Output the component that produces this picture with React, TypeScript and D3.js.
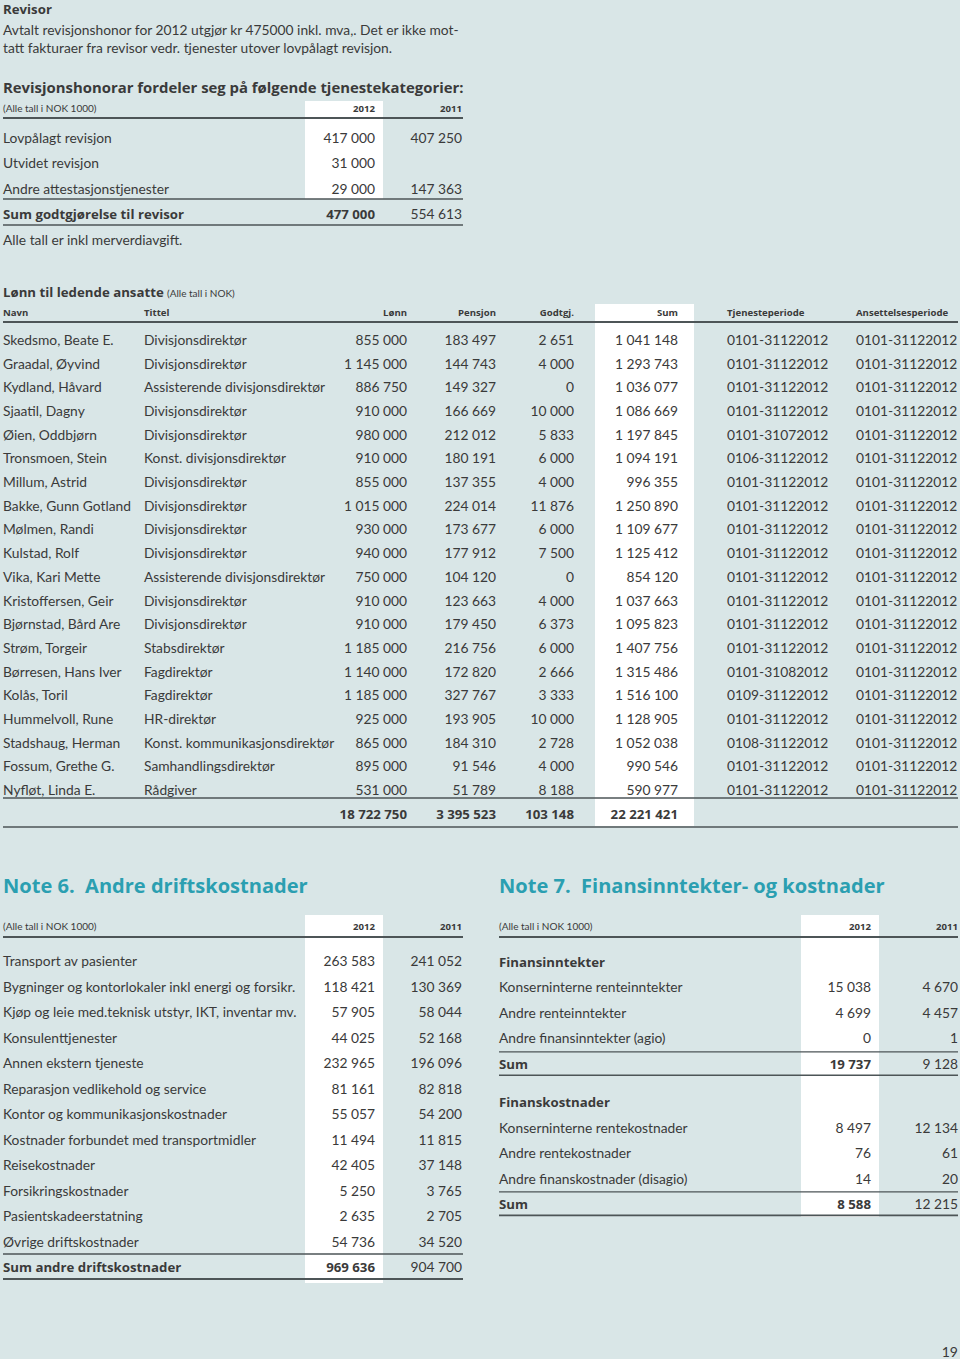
import React from "react";
import * as d3 from "d3";

// ---- data ----
const introLines = [
  "Avtalt revisjonshonor for 2012 utgjør kr 475000 inkl. mva,. Det er ikke mot-",
  "tatt fakturaer fra revisor vedr. tjenester utover lovpålagt revisjon.",
];
const revisorLabels = ["Lovpålagt revisjon", "Utvidet revisjon", "Andre attestasjonstjenester"];
const revisor2012 = [417000, 31000, 29000];
const revisor2011: (number | null)[] = [407250, null, 147363];
const revisorSum = [477000, 554613];

const salaryHeaders = ["Navn", "Tittel", "Lønn", "Pensjon", "Godtgj.", "Sum", "Tjenesteperiode", "Ansettelsesperiode"];
const salaryNames = [
  "Skedsmo, Beate E.", "Graadal, Øyvind", "Kydland, Håvard", "Sjaatil, Dagny", "Øien, Oddbjørn",
  "Tronsmoen, Stein", "Millum, Astrid", "Bakke, Gunn Gotland", "Mølmen, Randi", "Kulstad, Rolf",
  "Vika, Kari Mette", "Kristoffersen, Geir", "Bjørnstad, Bård Are", "Strøm, Torgeir", "Børresen, Hans Iver",
  "Kolås, Toril", "Hummelvoll, Rune", "Stadshaug, Herman", "Fossum, Grethe G.", "Nyfløt, Linda E.",
];
const salaryTitles = [
  "Divisjonsdirektør", "Divisjonsdirektør", "Assisterende divisjonsdirektør", "Divisjonsdirektør", "Divisjonsdirektør",
  "Konst. divisjonsdirektør", "Divisjonsdirektør", "Divisjonsdirektør", "Divisjonsdirektør", "Divisjonsdirektør",
  "Assisterende divisjonsdirektør", "Divisjonsdirektør", "Divisjonsdirektør", "Stabsdirektør", "Fagdirektør",
  "Fagdirektør", "HR-direktør", "Konst. kommunikasjonsdirektør", "Samhandlingsdirektør", "Rådgiver",
];
const salaryLonn = [855000, 1145000, 886750, 910000, 980000, 910000, 855000, 1015000, 930000, 940000, 750000, 910000, 910000, 1185000, 1140000, 1185000, 925000, 865000, 895000, 531000];
const salaryPensjon = [183497, 144743, 149327, 166669, 212012, 180191, 137355, 224014, 173677, 177912, 104120, 123663, 179450, 216756, 172820, 327767, 193905, 184310, 91546, 51789];
const salaryGodtgj = [2651, 4000, 0, 10000, 5833, 6000, 4000, 11876, 6000, 7500, 0, 4000, 6373, 6000, 2666, 3333, 10000, 2728, 4000, 8188];
const salarySum = [1041148, 1293743, 1036077, 1086669, 1197845, 1094191, 996355, 1250890, 1109677, 1125412, 854120, 1037663, 1095823, 1407756, 1315486, 1516100, 1128905, 1052038, 990546, 590977];
const salaryService = [
  "0101-31122012", "0101-31122012", "0101-31122012", "0101-31122012", "0101-31072012",
  "0106-31122012", "0101-31122012", "0101-31122012", "0101-31122012", "0101-31122012",
  "0101-31122012", "0101-31122012", "0101-31122012", "0101-31122012", "0101-31082012",
  "0109-31122012", "0101-31122012", "0108-31122012", "0101-31122012", "0101-31122012",
];
const salaryEmployment = salaryNames.map(() => "0101-31122012");
const salaryTotals = [18722750, 3395523, 103148, 22221421];

const note6Labels = [
  "Transport av pasienter", "Bygninger og kontorlokaler inkl energi og forsikr.",
  "Kjøp og leie med.teknisk utstyr, IKT, inventar mv.", "Konsulenttjenester", "Annen ekstern tjeneste",
  "Reparasjon vedlikehold og service", "Kontor og kommunikasjonskostnader", "Kostnader forbundet med transportmidler",
  "Reisekostnader", "Forsikringskostnader", "Pasientskadeerstatning", "Øvrige driftskostnader",
];
const note6_2012 = [263583, 118421, 57905, 44025, 232965, 81161, 55057, 11494, 42405, 5250, 2635, 54736];
const note6_2011 = [241052, 130369, 58044, 52168, 196096, 82818, 54200, 11815, 37148, 3765, 2705, 34520];
const note6Sum = [969636, 904700];

const note7IncomeLabels = ["Konserninterne renteinntekter", "Andre renteinntekter", "Andre finansinntekter (agio)"];
const note7Income2012 = [15038, 4699, 0];
const note7Income2011 = [4670, 4457, 1];
const note7IncomeSum = [19737, 9128];
const note7CostLabels = ["Konserninterne rentekostnader", "Andre rentekostnader", "Andre finanskostnader (disagio)"];
const note7Cost2012 = [8497, 76, 14];
const note7Cost2011 = [12134, 61, 20];
const note7CostSum = [8588, 12215];

// ---- style ----
const W = 960;
const H = 1359;
const BG = "#d9e6e7";
const INK = "#3a3a3a";
const RULE = "#4d5557";
const TEAL = "#2b9fb1";
const FONT = "Lato, 'Open Sans', sans-serif";
const FONT_BOLD = "'Open Sans', Lato, sans-serif";
const BODY = 13.8;
const SMALL = 10;
const TITLE = 20.9;

const fmt = d3.formatLocale({ decimal: ",", thousands: " ", grouping: [3], currency: ["", ""] }).format(",d");
const num = (v: number | null) => (v == null ? "" : fmt(v));

function Rule({ x1, x2, y, w = 1.3 }: { x1: number; x2: number; y: number; w?: number }) {
  return <line x1={x1} x2={x2} y1={y} y2={y} stroke={RULE} strokeWidth={w} />;
}

function T(props: any) {
  const { children, bold, size = BODY, anchor = "start", fill = INK, ...rest } = props;
  return (
    <text
      fontFamily={bold ? FONT_BOLD : FONT}
      fontSize={bold ? size * 0.96 : size}
      fontWeight={bold ? 700 : 400}
      textAnchor={anchor}
      fill={fill}
      style={{ whiteSpace: "pre" }}
      {...rest}
    >
      {children}
    </text>
  );
}

function RevisorSection() {
  const y = d3.scaleLinear().domain([0, 3]).range([143, 219]);
  const c12 = 375;
  const c11 = 462;
  return (
    <g>
      <T x={3} y={14} bold>Revisor</T>
      {introLines.map((l, i) => (
        <T key={i} x={3} y={35 + i * 18}>{l}</T>
      ))}
      <T x={3} y={93} bold size={15.5}>Revisjonshonorar fordeler seg på følgende tjenestekategorier:</T>
      <rect x={305} y={101} width={78} height={98} fill="#fff" />
      <T x={3} y={112} size={SMALL}>(Alle tall i NOK 1000)</T>
      <T x={c12} y={112} size={SMALL} bold anchor="end">2012</T>
      <T x={c11} y={112} size={SMALL} bold anchor="end">2011</T>
      <Rule x1={3} x2={463} y={118} w={2} />
      {revisorLabels.map((l, i) => (
        <g key={l}>
          <T x={3} y={y(i)}>{l}</T>
          <T x={c12} y={y(i)} anchor="end">{num(revisor2012[i])}</T>
          <T x={c11} y={y(i)} anchor="end">{num(revisor2011[i])}</T>
        </g>
      ))}
      <Rule x1={3} x2={463} y={199} />
      <T x={3} y={y(3)} bold>Sum godtgjørelse til revisor</T>
      <T x={c12} y={y(3)} bold anchor="end">{num(revisorSum[0])}</T>
      <T x={c11} y={y(3)} anchor="end">{num(revisorSum[1])}</T>
      <Rule x1={3} x2={463} y={225} w={1.6} />
      <T x={3} y={245}>Alle tall er inkl merverdiavgift.</T>
    </g>
  );
}

function SalarySection() {
  const n = salaryNames.length;
  const y = d3.scaleLinear().domain([0, n - 1]).range([345, 795]);
  const cols = [
    { x: 3, a: "start" },
    { x: 144, a: "start" },
    { x: 407, a: "end" },
    { x: 496, a: "end" },
    { x: 574, a: "end" },
    { x: 678, a: "end" },
    { x: 727, a: "start" },
    { x: 856, a: "start" },
  ];
  const totalY = 819;
  return (
    <g>
      <T x={3} y={297} bold>Lønn til ledende ansatte</T>
      <T x={167} y={297} size={SMALL}>(Alle tall i NOK)</T>
      <rect x={595} y={304} width={99} height={522} fill="#fff" />
      {salaryHeaders.map((h, i) => (
        <T key={h} x={cols[i].x} y={316} size={SMALL} bold anchor={cols[i].a}>{h}</T>
      ))}
      <Rule x1={3} x2={958} y={322} w={2} />
      {salaryNames.map((name, i) => {
        const cells = [
          name, salaryTitles[i], num(salaryLonn[i]), num(salaryPensjon[i]), num(salaryGodtgj[i]),
          num(salarySum[i]), salaryService[i], salaryEmployment[i],
        ];
        return (
          <g key={name}>
            {cells.map((c, j) => (
              <T key={j} x={cols[j].x} y={y(i)} anchor={cols[j].a}>{c}</T>
            ))}
          </g>
        );
      })}
      <Rule x1={3} x2={958} y={798} />
      {salaryTotals.map((v, j) => (
        <T key={j} x={cols[j + 2].x} y={totalY} bold anchor="end">{num(v)}</T>
      ))}
      <Rule x1={3} x2={958} y={827} w={1.6} />
    </g>
  );
}

function Note6() {
  const y = d3.scaleLinear().domain([0, 12]).range([966, 1272]);
  const c12 = 375;
  const c11 = 462;
  return (
    <g>
      <T x={3} y={893} size={TITLE} bold fill={TEAL}>{"Note 6.  Andre driftskostnader"}</T>
      <rect x={305} y={915} width={78} height={368} fill="#fff" />
      <T x={3} y={930} size={SMALL}>(Alle tall i NOK 1000)</T>
      <T x={c12} y={930} size={SMALL} bold anchor="end">2012</T>
      <T x={c11} y={930} size={SMALL} bold anchor="end">2011</T>
      <Rule x1={3} x2={463} y={937} w={2} />
      {note6Labels.map((l, i) => (
        <g key={l}>
          <T x={3} y={y(i)}>{l}</T>
          <T x={c12} y={y(i)} anchor="end">{num(note6_2012[i])}</T>
          <T x={c11} y={y(i)} anchor="end">{num(note6_2011[i])}</T>
        </g>
      ))}
      <Rule x1={3} x2={463} y={1254} />
      <T x={3} y={y(12)} bold>Sum andre driftskostnader</T>
      <T x={c12} y={y(12)} bold anchor="end">{num(note6Sum[0])}</T>
      <T x={c11} y={y(12)} anchor="end">{num(note6Sum[1])}</T>
      <Rule x1={3} x2={463} y={1279} w={2} />
    </g>
  );
}

function Note7() {
  const y = d3.scaleLinear().domain([0, 9.5]).range([967, 1209]);
  const x0 = 499;
  const c12 = 871;
  const c11 = 958;
  const block = (labels: string[], v12: number[], v11: number[], sum: number[], start: number, title: string) => (
    <g>
      <T x={x0} y={y(start)} bold>{title}</T>
      {labels.map((l, i) => (
        <g key={l}>
          <T x={x0} y={y(start + 1 + i)}>{l}</T>
          <T x={c12} y={y(start + 1 + i)} anchor="end">{num(v12[i])}</T>
          <T x={c11} y={y(start + 1 + i)} anchor="end">{num(v11[i])}</T>
        </g>
      ))}
      <Rule x1={x0} x2={958} y={y(start + 3.33)} />
      <T x={x0} y={y(start + 4)} bold>Sum</T>
      <T x={c12} y={y(start + 4)} bold anchor="end">{num(sum[0])}</T>
      <T x={c11} y={y(start + 4)} anchor="end">{num(sum[1])}</T>
      <Rule x1={x0} x2={958} y={y(start + 4.25)} w={1.6} />
    </g>
  );
  return (
    <g>
      <T x={x0} y={893} size={TITLE} bold fill={TEAL}>{"Note 7.  Finansinntekter- og kostnader"}</T>
      <rect x={801} y={915} width={78} height={302} fill="#fff" />
      <T x={x0} y={930} size={SMALL}>(Alle tall i NOK 1000)</T>
      <T x={c12} y={930} size={SMALL} bold anchor="end">2012</T>
      <T x={c11} y={930} size={SMALL} bold anchor="end">2011</T>
      <Rule x1={x0} x2={958} y={937} w={2} />
      {block(note7IncomeLabels, note7Income2012, note7Income2011, note7IncomeSum, 0, "Finansinntekter")}
      {block(note7CostLabels, note7Cost2012, note7Cost2011, note7CostSum, 5.5, "Finanskostnader")}
    </g>
  );
}

export default function App() {
  return (
    <svg
      width={W}
      height={H}
      viewBox={`0 0 ${W} ${H}`}
      style={{ position: "absolute", left: 0, top: 0, display: "block" }}
    >
      <rect width={W} height={H} fill={BG} />
      <RevisorSection />
      <SalarySection />
      <Note6 />
      <Note7 />
      <T x={958} y={1357} anchor="end" size={14}>19</T>
    </svg>
  );
}
